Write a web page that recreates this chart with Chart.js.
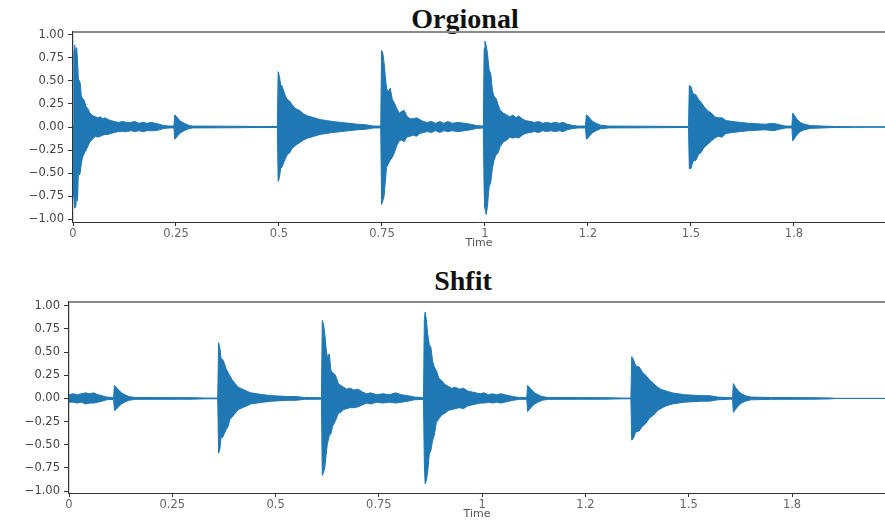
<!DOCTYPE html>
<html>
<head>
<meta charset="utf-8">
<script src="https://cdn.jsdelivr.net/npm/chart.js@4.4.0/dist/chart.umd.min.js"></script>
<style>
  body { margin: 0; width: 885px; height: 521px; background: #fff; overflow: hidden; position: relative; }
  canvas { position: absolute; left: 0; }
  .ttl { position: absolute; width: 240px; text-align: center; font-family: 'Liberation Serif', 'Times New Roman', serif; font-weight: bold; font-size: 28px; line-height: 28px; color: #111; }
</style>
</head>
<body>
<div class="ttl" style="left:345px; top:5px;">Orgional</div>
<canvas id="orig" width="885" height="250" style="top:0"></canvas>
<div class="ttl" style="left:343px; top:267px;">Shfit</div>
<canvas id="shift" width="885" height="251" style="top:270px"></canvas>
<script>
// 축 눈금 (librosa 스타일 라벨)
const xTickValues = [0, 0.25, 0.5, 0.75, 1, 1.25, 1.5, 1.75];
const xTickLabels = ['0', '0.25', '0.5', '0.75', '1', '1.2', '1.5', '1.8'];
const yTickValues = [-1, -0.75, -0.5, -0.25, 0, 0.25, 0.5, 0.75, 1];
const yTickLabels = ['\u22121.00', '\u22120.75', '\u22120.50', '\u22120.25', '0.00', '0.25', '0.50', '0.75', '1.00'];

// 원본 파형 포락선
const origTime = [
  0.000, 0.002, 0.004, 0.007, 0.009, 0.011, 0.013, 0.016, 0.018, 0.020, 0.023, 0.026, 0.029, 0.032, 0.036, 0.040,
  0.045, 0.050, 0.055, 0.060, 0.066, 0.072, 0.078, 0.085, 0.092, 0.100, 0.110, 0.120, 0.130, 0.140, 0.150, 0.160,
  0.170, 0.180, 0.190, 0.200, 0.210, 0.220, 0.235, 0.245, 0.247, 0.250, 0.255, 0.262, 0.270, 0.280, 0.290, 0.400,
  0.450, 0.496, 0.498, 0.501, 0.504, 0.508, 0.512, 0.516, 0.520, 0.526, 0.532, 0.540, 0.550, 0.560, 0.570, 0.585,
  0.600, 0.615, 0.630, 0.650, 0.670, 0.690, 0.710, 0.730, 0.747, 0.749, 0.752, 0.755, 0.758, 0.761, 0.765, 0.770,
  0.775, 0.780, 0.786, 0.792, 0.798, 0.804, 0.810, 0.818, 0.826, 0.834, 0.842, 0.850, 0.860, 0.870, 0.880, 0.890,
  0.900, 0.910, 0.920, 0.935, 0.950, 0.965, 0.980, 0.996, 0.998, 1.000, 1.003, 1.006, 1.010, 1.014, 1.018, 1.022,
  1.027, 1.032, 1.037, 1.045, 1.053, 1.060, 1.068, 1.075, 1.082, 1.090, 1.098, 1.110, 1.120, 1.130, 1.140, 1.150,
  1.160, 1.170, 1.180, 1.190, 1.200, 1.210, 1.225, 1.244, 1.246, 1.250, 1.255, 1.262, 1.270, 1.280, 1.300, 1.400,
  1.494, 1.496, 1.500, 1.505, 1.512, 1.518, 1.524, 1.532, 1.540, 1.550, 1.558, 1.566, 1.575, 1.585, 1.600, 1.620,
  1.640, 1.660, 1.680, 1.700, 1.715, 1.730, 1.745, 1.747, 1.752, 1.758, 1.765, 1.775, 1.790, 1.820, 1.850, 1.900,
  1.980
];
const origUpper = [
  0.02, 0.80, 0.89, 0.80, 0.86, 0.72, 0.52, 0.50, 0.46, 0.34, 0.31, 0.30, 0.26, 0.22, 0.20, 0.16,
  0.13, 0.12, 0.11, 0.10, 0.11, 0.09, 0.10, 0.08, 0.07, 0.06, 0.05, 0.06, 0.05, 0.05, 0.06, 0.04,
  0.05, 0.04, 0.05, 0.04, 0.03, 0.015, 0.01, 0.01, 0.13, 0.12, 0.09, 0.06, 0.04, 0.02, 0.01, 0.008,
  0.005, 0.005, 0.60, 0.55, 0.46, 0.44, 0.38, 0.33, 0.30, 0.28, 0.24, 0.20, 0.18, 0.14, 0.12, 0.10,
  0.08, 0.07, 0.06, 0.05, 0.04, 0.03, 0.025, 0.01, 0.01, 0.83, 0.80, 0.70, 0.55, 0.42, 0.38, 0.42,
  0.30, 0.26, 0.20, 0.15, 0.17, 0.18, 0.12, 0.09, 0.09, 0.10, 0.08, 0.06, 0.05, 0.06, 0.04, 0.06,
  0.04, 0.06, 0.04, 0.05, 0.04, 0.03, 0.015, 0.01, 0.85, 0.93, 0.88, 0.80, 0.62, 0.58, 0.40, 0.33,
  0.31, 0.24, 0.18, 0.15, 0.13, 0.11, 0.13, 0.10, 0.12, 0.09, 0.07, 0.06, 0.05, 0.06, 0.04, 0.05,
  0.04, 0.05, 0.04, 0.05, 0.03, 0.02, 0.01, 0.01, 0.13, 0.12, 0.09, 0.06, 0.04, 0.02, 0.01, 0.008,
  0.005, 0.45, 0.44, 0.36, 0.35, 0.30, 0.27, 0.22, 0.18, 0.15, 0.11, 0.10, 0.10, 0.07, 0.06, 0.05,
  0.04, 0.035, 0.03, 0.04, 0.025, 0.01, 0.01, 0.15, 0.12, 0.08, 0.05, 0.03, 0.015, 0.01, 0.005, 0.003,
  0.002
];
const origLower = [
  -0.02, -0.75, -0.88, -0.86, -0.70, -0.80, -0.50, -0.52, -0.48, -0.40, -0.33, -0.30, -0.27, -0.25, -0.21, -0.17,
  -0.14, -0.12, -0.10, -0.11, -0.10, -0.09, -0.08, -0.08, -0.07, -0.06, -0.05, -0.05, -0.05, -0.04, -0.05, -0.04,
  -0.05, -0.04, -0.04, -0.04, -0.03, -0.015, -0.01, -0.01, -0.13, -0.12, -0.09, -0.06, -0.04, -0.02, -0.01, -0.008,
  -0.005, -0.005, -0.59, -0.55, -0.45, -0.43, -0.38, -0.34, -0.30, -0.28, -0.23, -0.20, -0.17, -0.14, -0.12, -0.10,
  -0.08, -0.07, -0.06, -0.05, -0.04, -0.03, -0.025, -0.01, -0.01, -0.84, -0.80, -0.75, -0.60, -0.44, -0.40, -0.36,
  -0.33, -0.28, -0.20, -0.15, -0.14, -0.16, -0.11, -0.10, -0.09, -0.10, -0.07, -0.06, -0.05, -0.06, -0.04, -0.06,
  -0.04, -0.05, -0.04, -0.05, -0.04, -0.03, -0.015, -0.01, -0.70, -0.88, -0.95, -0.86, -0.65, -0.60, -0.45, -0.36,
  -0.30, -0.28, -0.21, -0.16, -0.14, -0.11, -0.12, -0.11, -0.12, -0.09, -0.07, -0.06, -0.05, -0.06, -0.04, -0.05,
  -0.04, -0.05, -0.04, -0.05, -0.03, -0.02, -0.01, -0.01, -0.13, -0.12, -0.09, -0.06, -0.04, -0.02, -0.01, -0.008,
  -0.005, -0.45, -0.45, -0.37, -0.36, -0.30, -0.28, -0.22, -0.19, -0.15, -0.12, -0.10, -0.11, -0.07, -0.06, -0.05,
  -0.04, -0.035, -0.03, -0.04, -0.025, -0.01, -0.01, -0.15, -0.12, -0.08, -0.05, -0.03, -0.015, -0.01, -0.005, -0.003,
  -0.002
];

// 시프트된 파형 포락선
const shiftTime = [
  0.000, 0.010, 0.020, 0.030, 0.040, 0.050, 0.060, 0.070, 0.080, 0.090, 0.108, 0.110, 0.114, 0.120, 0.127, 0.135,
  0.145, 0.160, 0.300, 0.330, 0.360, 0.362, 0.365, 0.368, 0.372, 0.376, 0.380, 0.385, 0.390, 0.395, 0.402, 0.410,
  0.420, 0.430, 0.440, 0.455, 0.470, 0.490, 0.510, 0.530, 0.550, 0.570, 0.611, 0.613, 0.616, 0.619, 0.622, 0.625,
  0.630, 0.634, 0.638, 0.645, 0.652, 0.658, 0.665, 0.672, 0.680, 0.690, 0.700, 0.710, 0.720, 0.730, 0.745, 0.760,
  0.775, 0.790, 0.805, 0.820, 0.835, 0.858, 0.860, 0.862, 0.865, 0.868, 0.872, 0.876, 0.880, 0.884, 0.889, 0.895,
  0.902, 0.910, 0.918, 0.926, 0.935, 0.945, 0.955, 0.965, 0.975, 0.985, 0.995, 1.005, 1.015, 1.025, 1.035, 1.045,
  1.055, 1.065, 1.075, 1.090, 1.108, 1.110, 1.114, 1.120, 1.127, 1.135, 1.145, 1.160, 1.300, 1.340, 1.360, 1.362,
  1.366, 1.372, 1.380, 1.388, 1.396, 1.405, 1.415, 1.425, 1.432, 1.445, 1.460, 1.475, 1.490, 1.510, 1.530, 1.550,
  1.570, 1.600, 1.606, 1.608, 1.613, 1.620, 1.628, 1.637, 1.650, 1.700, 1.800, 1.840, 1.860, 1.980
];
const shiftUpper = [
  0.04, 0.05, 0.04, 0.05, 0.06, 0.05, 0.06, 0.04, 0.03, 0.015, 0.01, 0.14, 0.12, 0.09, 0.06, 0.04,
  0.02, 0.01, 0.008, 0.004, 0.004, 0.60, 0.55, 0.43, 0.42, 0.38, 0.32, 0.28, 0.24, 0.20, 0.16, 0.12,
  0.10, 0.08, 0.06, 0.05, 0.04, 0.03, 0.025, 0.02, 0.02, 0.01, 0.008, 0.84, 0.80, 0.70, 0.55, 0.45,
  0.48, 0.30, 0.28, 0.25, 0.16, 0.14, 0.12, 0.10, 0.11, 0.09, 0.10, 0.07, 0.05, 0.06, 0.04, 0.05,
  0.04, 0.06, 0.04, 0.03, 0.015, 0.01, 0.85, 0.93, 0.85, 0.70, 0.58, 0.55, 0.40, 0.34, 0.30, 0.22,
  0.19, 0.15, 0.13, 0.11, 0.12, 0.10, 0.11, 0.08, 0.07, 0.06, 0.05, 0.06, 0.04, 0.05, 0.04, 0.05,
  0.04, 0.03, 0.02, 0.01, 0.01, 0.14, 0.12, 0.09, 0.06, 0.04, 0.02, 0.01, 0.008, 0.004, 0.004, 0.45,
  0.42, 0.35, 0.34, 0.28, 0.25, 0.20, 0.16, 0.12, 0.10, 0.08, 0.06, 0.05, 0.04, 0.035, 0.03, 0.03,
  0.015, 0.008, 0.008, 0.16, 0.12, 0.08, 0.05, 0.03, 0.015, 0.01, 0.008, 0.005, 0.0, 0.0
];
const shiftLower = [
  -0.04, -0.04, -0.05, -0.04, -0.06, -0.05, -0.05, -0.04, -0.03, -0.015, -0.01, -0.13, -0.12, -0.09, -0.06, -0.04,
  -0.02, -0.01, -0.008, -0.004, -0.004, -0.59, -0.55, -0.42, -0.42, -0.38, -0.34, -0.30, -0.22, -0.20, -0.16, -0.12,
  -0.10, -0.08, -0.06, -0.05, -0.04, -0.03, -0.025, -0.02, -0.02, -0.01, -0.008, -0.83, -0.80, -0.75, -0.62, -0.50,
  -0.40, -0.38, -0.30, -0.24, -0.16, -0.15, -0.12, -0.11, -0.10, -0.10, -0.09, -0.07, -0.05, -0.06, -0.04, -0.05,
  -0.04, -0.05, -0.04, -0.03, -0.015, -0.01, -0.70, -0.92, -0.88, -0.80, -0.60, -0.56, -0.45, -0.40, -0.26, -0.22,
  -0.18, -0.16, -0.13, -0.12, -0.11, -0.10, -0.11, -0.08, -0.07, -0.06, -0.05, -0.05, -0.04, -0.05, -0.04, -0.05,
  -0.04, -0.03, -0.02, -0.01, -0.01, -0.14, -0.12, -0.09, -0.06, -0.04, -0.02, -0.01, -0.008, -0.004, -0.004, -0.45,
  -0.43, -0.36, -0.35, -0.30, -0.27, -0.21, -0.18, -0.13, -0.11, -0.08, -0.06, -0.05, -0.04, -0.035, -0.03, -0.03,
  -0.015, -0.008, -0.008, -0.15, -0.12, -0.08, -0.05, -0.03, -0.015, -0.01, -0.008, -0.005, 0.0, 0.0
];

const waveColor = '#1f77b4';

// 차트 영역 위쪽 테두리
const topFrame = {
  id: 'topFrame',
  afterDraw(chart) {
    const { ctx, chartArea } = chart;
    ctx.save();
    ctx.strokeStyle = '#8a8a8a';
    ctx.lineWidth = 2;
    ctx.beginPath();
    ctx.moveTo(chartArea.left, chartArea.top);
    ctx.lineTo(chartArea.right, chartArea.top);
    ctx.stroke();
    ctx.restore();
  }
};

const makeWave = (id, time, upper, lower, cfg) => {
  const toPts = (vals) => time.map((t, i) => ({ x: t, y: vals[i] }));
  return new Chart(document.getElementById(id), {
    type: 'line',
    data: {
      datasets: [
        { data: toPts(upper), borderColor: waveColor, backgroundColor: waveColor, borderWidth: 1, pointRadius: 0, tension: 0, fill: '+1' },
        { data: toPts(lower), borderColor: waveColor, backgroundColor: waveColor, borderWidth: 1, pointRadius: 0, tension: 0, fill: false },
      ],
    },
    options: {
      responsive: false,
      animation: false,
      layout: { padding: { top: 32, left: 0, right: 0, bottom: 0 } },
      plugins: { legend: { display: false }, tooltip: { enabled: false } },
      scales: {
        x: {
          type: 'linear',
          min: 0,
          max: cfg.xMax,
          afterBuildTicks: (s) => { s.ticks = xTickValues.map((v) => ({ value: v })); },
          afterFit: (s) => { s.height = 28; },
          ticks: {
            autoSkip: false, maxRotation: 0, padding: 1,
            color: '#666', font: { family: 'DejaVu Sans', size: 11.5 },
            callback: (v) => xTickLabels[xTickValues.indexOf(v)],
          },
          grid: { drawOnChartArea: false, tickLength: 4, tickColor: '#333' },
          border: { display: true, color: '#333', width: 1 },
          title: { display: true, text: 'Time', color: '#555', font: { family: 'DejaVu Sans', size: 11 }, padding: 0 },
        },
        y: {
          min: cfg.yMin,
          max: cfg.yMax,
          afterBuildTicks: (s) => { s.ticks = yTickValues.map((v) => ({ value: v })); },
          afterFit: (s) => { s.width = cfg.yWidth; },
          ticks: {
            padding: 4,
            color: '#444', font: { family: 'DejaVu Sans', size: 11.5 },
            callback: (v) => yTickLabels[yTickValues.indexOf(v)],
          },
          grid: { drawOnChartArea: false, tickLength: 5, tickColor: '#333' },
          border: { display: true, color: '#333', width: 1.2 },
        },
      },
    },
    plugins: [topFrame],
  });
};

makeWave('orig', origTime, origUpper, origLower, { xMax: 1.971, yMin: -1.03, yMax: 1.03, yWidth: 73 });
makeWave('shift', shiftTime, shiftUpper, shiftLower, { xMax: 1.975, yMin: -1.02, yMax: 1.04, yWidth: 69 });
</script>
</body>
</html>
